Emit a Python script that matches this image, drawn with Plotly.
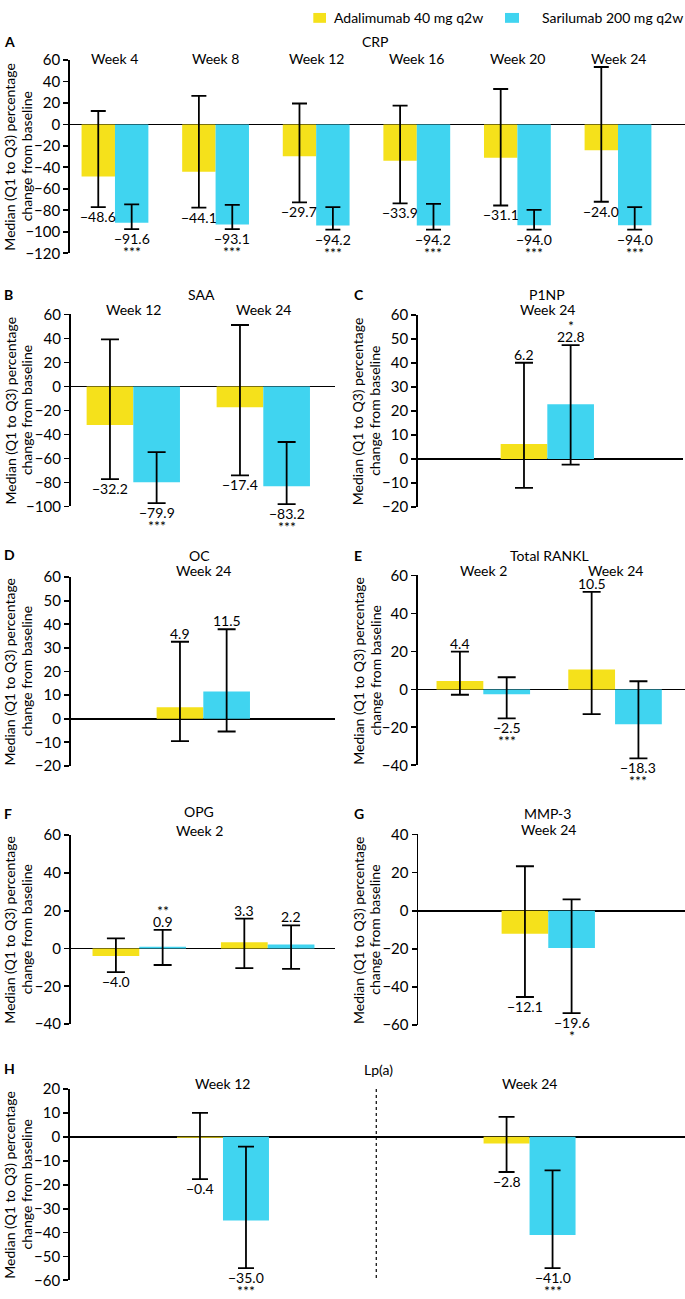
import plotly.graph_objects as go

# ---------------- DATA ----------------
# A: CRP
crp_weeks = ["Week 4", "Week 8", "Week 12", "Week 16", "Week 20", "Week 24"]
crp_ada_med = [-48.6, -44.1, -29.7, -33.9, -31.1, -24.0]
crp_ada_q1 = [-77.0, -77.5, -72.5, -73.5, -75.5, -72.0]
crp_ada_q3 = [12.5, 26.5, 19.5, 17.5, 33.0, 53.5]
crp_sar_med = [-91.6, -93.1, -94.2, -94.2, -94.0, -94.0]
crp_sar_q1 = [-97.5, -97.5, -98.0, -98.0, -98.0, -98.0]
crp_sar_q3 = [-74.5, -75.0, -77.0, -74.0, -79.5, -77.0]
crp_sig = ["***", "***", "***", "***", "***", "***"]

# B: SAA
saa_weeks = ["Week 12", "Week 24"]
saa_ada_med = [-32.2, -17.4]
saa_ada_q1 = [-77.3, -74.2]
saa_ada_q3 = [39.2, 51.2]
saa_sar_med = [-79.9, -83.2]
saa_sar_q1 = [-97.3, -98.1]
saa_sar_q3 = [-54.8, -46.3]
saa_sig = ["***", "***"]

# C: P1NP
p1np_weeks = ["Week 24"]
p1np_ada_med = [6.2]
p1np_ada_q1 = [-12.0]
p1np_ada_q3 = [40.0]
p1np_sar_med = [22.8]
p1np_sar_q1 = [-2.3]
p1np_sar_q3 = [47.3]
p1np_sig = ["*"]

# D: OC
oc_weeks = ["Week 24"]
oc_ada_med = [4.9]
oc_ada_q1 = [-9.5]
oc_ada_q3 = [32.6]
oc_sar_med = [11.5]
oc_sar_q1 = [-5.4]
oc_sar_q3 = [37.9]
oc_sig = [""]

# E: Total RANKL
rankl_weeks = ["Week 2", "Week 24"]
rankl_ada_med = [4.4, 10.5]
rankl_ada_q1 = [-2.8, -13.0]
rankl_ada_q3 = [19.9, 51.4]
rankl_sar_med = [-2.5, -18.3]
rankl_sar_q1 = [-15.2, -36.3]
rankl_sar_q3 = [6.4, 4.3]
rankl_sig = ["***", "***"]

# F: OPG
opg_weeks = ["", ""]
opg_ada_med = [-4.0, 3.3]
opg_ada_q1 = [-12.5, -10.4]
opg_ada_q3 = [5.4, 15.8]
opg_sar_med = [0.9, 2.2]
opg_sar_q1 = [-8.7, -10.8]
opg_sar_q3 = [9.9, 12.3]
opg_sig = ["**", ""]

# G: MMP-3
mmp_weeks = ["Week 24"]
mmp_ada_med = [-12.1]
mmp_ada_q1 = [-45.3]
mmp_ada_q3 = [23.3]
mmp_sar_med = [-19.6]
mmp_sar_q1 = [-53.8]
mmp_sar_q3 = [5.9]
mmp_sig = ["*"]

# H: Lp(a)
lpa_weeks = ["Week 12", "Week 24"]
lpa_ada_med = [-0.4, -2.8]
lpa_ada_q1 = [-17.7, -14.7]
lpa_ada_q3 = [10.0, 8.4]
lpa_sar_med = [-35.0, -41.0]
lpa_sar_q1 = [-54.9, -54.9]
lpa_sar_q3 = [-4.1, -14.0]
lpa_sig = ["***", "***"]

series_names = ["Adalimumab 40 mg q2w", "Sarilumab 200 mg q2w"]
ytitle_lines = ["Median (Q1 to Q3) percentage", "change from baseline"]

# ---------------- LAYOUT GEOMETRY ----------------
W, H = 685, 1299
YEL = "#F5E11B"
CYN = "#40D4F0"
FONT = "Lato"
FS = 14
TXT = dict(family=FONT, size=FS, color="black")


def fx(p):
    return p / W


def fy(p):
    return 1 - p / H


panels = [
    dict(letter="A", title=["CRP"], title_xy=[(375, 31.7)], letter_xy=(2, 31.7),
         xd=(70, 685), yd=(50.7, 246.7), xr=(-0.447, 5.666), yr=(-120, 60), dtick=20, w=0.332, cap=7.5,
         weeks=crp_weeks, week_y=49.3, ytx=(10, 26.7),
         d=(crp_ada_med, crp_ada_q1, crp_ada_q3, crp_sar_med, crp_sar_q1, crp_sar_q3, crp_sig)),
    dict(letter="B", title=["SAA"], title_xy=[(201, 288)], letter_xy=(2, 288),
         xd=(70.7, 335), yd=(308.7, 503.4), xr=(-0.4815, 1.5515), yr=(-100, 60), dtick=20, w=0.359, cap=9,
         weeks=saa_weeks, week_y=304, ytx=(10, 26.7),
         d=(saa_ada_med, saa_ada_q1, saa_ada_q3, saa_sar_med, saa_sar_q1, saa_sar_q3, saa_sig)),
    dict(letter="C", title=["P1NP"], title_xy=[(547, 288)], letter_xy=(352, 288),
         xd=(418, 683), yd=(308.9, 504.1), xr=(-0.995, 1.044), yr=(-20, 60), dtick=10, w=0.359, cap=9,
         weeks=p1np_weeks, week_y=304, ytx=(358.3, 375),
         d=(p1np_ada_med, p1np_ada_q1, p1np_ada_q3, p1np_sar_med, p1np_sar_q1, p1np_sar_q3, p1np_sig)),
    dict(letter="D", title=["OC"], title_xy=[(199, 553)], letter_xy=(2, 552),
         xd=(70.7, 335), yd=(575, 766.6), xr=(-1.02, 1.013), yr=(-20, 60), dtick=10, w=0.359, cap=9,
         weeks=oc_weeks, week_y=568, ytx=(10, 26.7),
         d=(oc_ada_med, oc_ada_q1, oc_ada_q3, oc_sar_med, oc_sar_q1, oc_sar_q3, oc_sig)),
    dict(letter="E", title=["Total RANKL"], title_xy=[(549, 553)], letter_xy=(352, 553),
         xd=(417.7, 685), yd=(573.4, 766), xr=(-0.498, 1.531), yr=(-40, 60), dtick=20, w=0.355, cap=9,
         weeks=rankl_weeks, week_y=568, ytx=(358.3, 375),
         d=(rankl_ada_med, rankl_ada_q1, rankl_ada_q3, rankl_sar_med, rankl_sar_q1, rankl_sar_q3, rankl_sig)),
    dict(letter="F", title=["OPG", "Week 2"], title_xy=[(199, 813), (199, 832)], letter_xy=(2, 815),
         xd=(70.7, 335), yd=(836.7, 1028.4), xr=(-0.534, 1.524), yr=(-40, 60), dtick=20, w=0.364, cap=9,
         weeks=opg_weeks, week_y=832, ytx=(10, 26.7),
         d=(opg_ada_med, opg_ada_q1, opg_ada_q3, opg_sar_med, opg_sar_q1, opg_sar_q3, opg_sig)),
    dict(letter="G", title=["MMP-3"], title_xy=[(547, 815)], letter_xy=(352, 815),
         xd=(418.3, 685), yd=(836, 1029.3), xr=(-1.0, 1.052), yr=(-60, 40), dtick=20, w=0.359, cap=9,
         weeks=mmp_weeks, week_y=831, ytx=(358.3, 375),
         d=(mmp_ada_med, mmp_ada_q1, mmp_ada_q3, mmp_sar_med, mmp_sar_q1, mmp_sar_q3, mmp_sig)),
    dict(letter="H", title=["Lp(a)"], title_xy=[(378, 1074)], letter_xy=(2, 1073),
         xd=(70, 685), yd=(1094.2, 1288.2), xr=(-0.499, 1.507), yr=(-60, 20), dtick=10, w=0.15, cap=8,
         weeks=lpa_weeks, week_y=1089, ytx=(10, 26.7),
         d=(lpa_ada_med, lpa_ada_q1, lpa_ada_q3, lpa_sar_med, lpa_sar_q1, lpa_sar_q3, lpa_sig)),
]

fig = go.Figure()
annotations = []
shapes = []
layout_axes = {}

for k, p in enumerate(panels):
    n = k + 1
    xa = "x" if n == 1 else f"x{n}"
    ya = "y" if n == 1 else f"y{n}"
    xkey = "xaxis" if n == 1 else f"xaxis{n}"
    ykey = "yaxis" if n == 1 else f"yaxis{n}"
    ada_med, ada_q1, ada_q3, sar_med, sar_q1, sar_q3, sig = p["d"]
    ncat = len(ada_med)
    xs = list(range(ncat))
    w = p["w"]

    for si, (med, q1, q3, col) in enumerate([(ada_med, ada_q1, ada_q3, YEL), (sar_med, sar_q1, sar_q3, CYN)]):
        fig.add_trace(go.Bar(
            x=xs, y=med, xaxis=xa, yaxis=ya,
            width=w, offset=(-w if si == 0 else 0),
            marker=dict(color=col, line=dict(width=0)),
            name=series_names[si], showlegend=False, hoverinfo="skip",
            error_y=dict(type="data", symmetric=False,
                         array=[b - a for a, b in zip(med, q3)],
                         arrayminus=[a - b for a, b in zip(med, q1)],
                         color="black", thickness=1.8, width=p["cap"]),
        ))
        # value labels and significance marks
        for i in range(ncat):
            cx = i - w / 2 if si == 0 else i + w / 2
            txt = f"{med[i]:.1f}".replace("-", "\u2212")
            stars = sig[i] if si == 1 else ""
            if med[i] < 0:
                annotations.append(dict(x=cx, y=q1[i], xref=xa, yref=ya, text=txt, showarrow=False,
                                        yanchor="top", xanchor="center", yshift=1, font=TXT))
                if stars:
                    annotations.append(dict(x=cx, y=q1[i], xref=xa, yref=ya, text=stars, showarrow=False,
                                            yanchor="top", xanchor="center", yshift=-12, font=TXT))
            else:
                annotations.append(dict(x=cx, y=q3[i], xref=xa, yref=ya, text=txt, showarrow=False,
                                        yanchor="bottom", xanchor="center", yshift=-2, font=TXT))
                if stars:
                    annotations.append(dict(x=cx, y=q3[i], xref=xa, yref=ya, text=stars, showarrow=False,
                                            yanchor="bottom", xanchor="center", yshift=9, font=TXT))

    layout_axes[xkey] = dict(domain=[fx(p["xd"][0]), fx(p["xd"][1])], range=list(p["xr"]),
                             anchor=ya, showgrid=False, zeroline=False, showline=False,
                             showticklabels=False, ticks="", fixedrange=True)
    layout_axes[ykey] = dict(domain=[fy(p["yd"][1]), fy(p["yd"][0])], range=list(p["yr"]),
                             anchor=xa, dtick=p["dtick"], tick0=0, showgrid=False,
                             zeroline=True, zerolinecolor="black", zerolinewidth=1.8,
                             showline=True, linecolor="black", linewidth=1.8,
                             ticks="outside", ticklen=5, tickwidth=1.8, tickcolor="black",
                             tickfont=dict(family=FONT, size=15, color="black"), fixedrange=True)

    # week labels above each group
    for i, wk in enumerate(p["weeks"]):
        if wk:
            annotations.append(dict(x=i, y=fy(p["week_y"]), xref=xa, yref="paper", text=wk,
                                    showarrow=False, xanchor="center", yanchor="middle", font=TXT))
    # panel titles
    for t, (tx, ty) in zip(p["title"], p["title_xy"]):
        annotations.append(dict(x=fx(tx), y=fy(ty), xref="paper", yref="paper", text=t,
                                showarrow=False, xanchor="center", yanchor="middle", font=TXT))
    # panel letter
    lx, ly = p["letter_xy"]
    annotations.append(dict(x=fx(lx), y=fy(ly), xref="paper", yref="paper", text=f"<b>{p['letter']}</b>",
                            showarrow=False, xanchor="left", yanchor="middle", font=TXT))
    # y-axis title (two lines)
    yc = fy((p["yd"][0] + p["yd"][1]) / 2)
    for line, lxp in zip(ytitle_lines, p["ytx"]):
        annotations.append(dict(x=fx(lxp), y=yc, xref="paper", yref="paper", text=line,
                                textangle=-90, showarrow=False, xanchor="center", yanchor="middle",
                                font=TXT))

# dashed separator in Lp(a) panel
shapes.append(dict(type="line", xref="x8", yref="y8", x0=0.5, x1=0.5, y0=20, y1=-60,
                   line=dict(color="black", width=1.2, dash="dot")))

# legend (top right)
shapes.append(dict(type="rect", xref="paper", yref="paper", x0=fx(313.3), x1=fx(326),
                   y0=fy(13), y1=fy(3), fillcolor=YEL, line=dict(width=0)))
annotations.append(dict(x=fx(331.5), y=fy(8), xref="paper", yref="paper", text=series_names[0],
                        showarrow=False, xanchor="left", yanchor="middle", font=TXT))
shapes.append(dict(type="rect", xref="paper", yref="paper", x0=fx(505), x1=fx(519),
                   y0=fy(13), y1=fy(3), fillcolor=CYN, line=dict(width=0)))
annotations.append(dict(x=fx(685), y=fy(8), xref="paper", yref="paper", text=series_names[1],
                        showarrow=False, xanchor="right", yanchor="middle", font=TXT))

fig.update_layout(
    width=W, height=H, margin=dict(l=0, r=0, t=0, b=0),
    paper_bgcolor="white", plot_bgcolor="white",
    barmode="overlay", showlegend=False, hovermode=False,
    font=TXT,
    annotations=annotations, shapes=shapes,
    **layout_axes,
)

fig.write_html("out.html", config={"displayModeBar": False, "staticPlot": True},
               post_script="document.body.style.margin='0px';document.body.style.overflow='hidden';")
